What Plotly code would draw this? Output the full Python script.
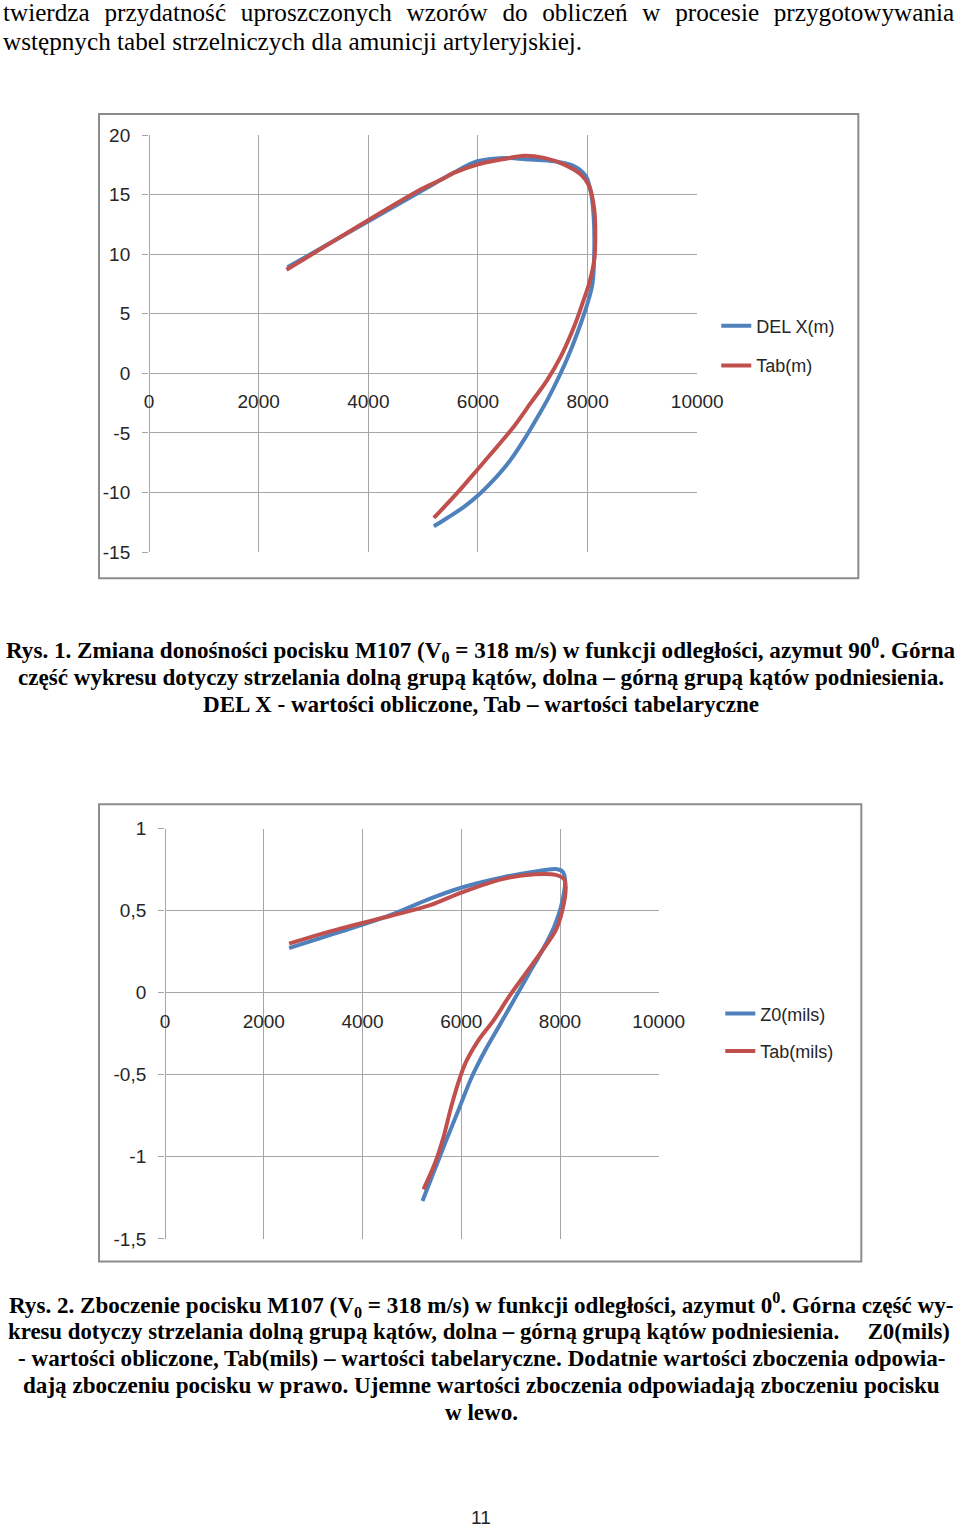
import plotly.graph_objects as go

# Layout is described in target-picture pixels (960x1529) and mapped to
# figure pixels with the measured page-to-picture transform of the viewer.
SX, BX = 0.968, 5.0
SY, BY = 0.986, 10.0
W, H = 980, 1533

# ---------------- data: chart 1 (range change, m) ----------------
x1_del = [2525, 4945, 5561, 5988, 6476, 6963, 7390, 7756, 7970, 8061, 8110, 8122, 8091, 8000, 7878, 7695, 7482, 7268, 7024, 6841, 6598, 6354, 6049, 5744, 5439, 5195]
y1_del = [8.9, 15.24, 16.85, 17.8, 18.08, 17.94, 17.8, 17.38, 16.54, 15.14, 13.18, 10.38, 7.59, 5.91, 4.23, 1.99, -0.24, -2.2, -4.16, -5.56, -7.24, -8.6, -10.03, -11.2, -12.13, -12.83]
x1_tab = [2507, 4945, 5305, 5561, 5988, 6476, 6841, 7207, 7573, 7878, 8030, 8122, 8140, 8122, 8030, 7909, 7756, 7512, 7268, 6963, 6659, 6354, 5988, 5622, 5195]
y1_tab = [8.69, 15.4, 16.2, 16.82, 17.52, 17.99, 18.27, 18.08, 17.52, 16.68, 15.7, 13.74, 11.5, 9.55, 7.59, 5.91, 3.95, 1.43, -0.52, -2.48, -4.44, -6.12, -8.08, -10.03, -12.13]
names1 = ["DEL X(m)", "Tab(m)"]
xt1 = [0, 2000, 4000, 6000, 8000, 10000]
xt1_text = ["0", "2000", "4000", "6000", "8000", "10000"]
yt1 = [-15, -10, -5, 0, 5, 10, 15, 20]
yt1_text = ["-15", "-10", "-5", "0", "5", "10", "15", "20"]

# ---------------- data: chart 2 (drift, mils) ----------------
x2_z0 = [2513, 3546, 4559, 5370, 6014, 6827, 7505, 7912, 8047, 8102, 8034, 7878, 7641, 7369, 7064, 6759, 6488, 6217, 5946, 5675, 5437, 5214]
y2_z0 = [0.272, 0.37, 0.472, 0.573, 0.641, 0.702, 0.739, 0.753, 0.739, 0.692, 0.54, 0.399, 0.257, 0.116, -0.046, -0.207, -0.349, -0.511, -0.713, -0.915, -1.097, -1.269]
x2_tab = [2513, 3546, 4559, 5370, 6014, 6827, 7505, 7912, 8081, 8115, 8047, 7912, 7641, 7302, 6963, 6658, 6353, 6115, 5980, 5800, 5640, 5471, 5234]
y2_tab = [0.299, 0.39, 0.467, 0.533, 0.611, 0.692, 0.722, 0.718, 0.692, 0.642, 0.5, 0.379, 0.257, 0.116, -0.026, -0.167, -0.288, -0.41, -0.511, -0.69, -0.88, -1.036, -1.198]
names2 = ["Z0(mils)", "Tab(mils)"]
xt2 = [0, 2000, 4000, 6000, 8000, 10000]
xt2_text = ["0", "2000", "4000", "6000", "8000", "10000"]
yt2 = [-1.5, -1, -0.5, 0, 0.5, 1]
yt2_text = ["-1,5", "-1", "-0,5", "0", "0,5", "1"]

# ---------------- text ----------------
top_lines = [
    "twierdza przydatność uproszczonych wzorów do obliczeń w procesie przygotowywania",
    "wstępnych tabel strzelniczych dla amunicji artyleryjskiej.",
]
cap1_lines = [
    "Rys. 1. Zmiana donośności pocisku M107 (V<sub>0</sub> = 318 m/s) w funkcji odległości, azymut 90<sup>0</sup>. Górna",
    "część wykresu dotyczy strzelania dolną grupą kątów, dolna – górną grupą kątów podniesienia.",
    "DEL X - wartości obliczone, Tab – wartości tabelaryczne",
]
cap2_lines = [
    "Rys. 2. Zboczenie pocisku M107 (V<sub>0</sub> = 318 m/s) w funkcji odległości, azymut 0<sup>0</sup>. Górna część wy-",
    "kresu dotyczy strzelania dolną grupą kątów, dolna – górną grupą kątów podniesienia." + "\u00a0" * 5 + "Z0(mils)",
    "- wartości obliczone, Tab(mils) – wartości tabelaryczne. Dodatnie wartości zboczenia odpowia-",
    "dają zboczeniu pocisku w prawo. Ujemne wartości zboczenia odpowiadają zboczeniu pocisku",
    "w lewo.",
]
page_no = "11"

BLUE = "#4F81BD"
RED = "#C0504D"
GRID = "#A6A6A6"
SANS = "Liberation Sans, Arial, sans-serif"
SERIF = "Liberation Serif, Times New Roman, serif"

def px(x):
    return ((x - BX) / SX) / W

def py(y):
    return 1 - ((y - BY) / SY) / H

fig = go.Figure()

LW = 4
SM = 0.9
fig.add_trace(go.Scatter(x=x1_del, y=y1_del, name=names1[0], mode="lines",
                         line=dict(color=BLUE, width=LW, shape="spline", smoothing=SM),
                         xaxis="x", yaxis="y", legend="legend", legendgroup="a"))
fig.add_trace(go.Scatter(x=x1_tab, y=y1_tab, name=names1[1], mode="lines",
                         line=dict(color=RED, width=LW, shape="spline", smoothing=SM),
                         xaxis="x", yaxis="y", legend="legend", legendgroup="b"))
fig.add_trace(go.Scatter(x=x2_z0, y=y2_z0, name=names2[0], mode="lines",
                         line=dict(color=BLUE, width=LW, shape="spline", smoothing=SM),
                         xaxis="x2", yaxis="y2", legend="legend2", legendgroup="c"))
fig.add_trace(go.Scatter(x=x2_tab, y=y2_tab, name=names2[1], mode="lines",
                         line=dict(color=RED, width=LW, shape="spline", smoothing=SM),
                         xaxis="x2", yaxis="y2", legend="legend2", legendgroup="d"))

# plot areas (target pixels)
c1 = dict(x0=149, x1=697, ytop=135, ybot=552, yr=[-15, 20])
c2 = dict(x0=165, x1=658.5, ytop=828.3, ybot=1238.5, yr=[-1.5, 1])

def zero_pos(c):
    d0, d1 = py(c["ybot"]), py(c["ytop"])
    r0, r1 = c["yr"]
    return d0 + (0 - r0) / (r1 - r0) * (d1 - d0)

tickfont = dict(family=SANS, size=19, color="#262626")
common_x = dict(range=[0, 10000], showgrid=True, gridcolor=GRID, gridwidth=1,
                zeroline=True, zerolinecolor=GRID, zerolinewidth=1,
                showline=False, ticks="", tickfont=tickfont, tickmode="array",
                anchor="free", ticklabelstandoff=15, fixedrange=True)
common_y = dict(showgrid=True, gridcolor=GRID, gridwidth=1,
                zeroline=True, zerolinecolor=GRID, zerolinewidth=1,
                showline=False, ticks="outside", ticklen=6, tickcolor=GRID,
                tickfont=tickfont, tickmode="array", ticklabelstandoff=8, fixedrange=True)

legfont = dict(family=SANS, size=18, color="#262626")
fig.update_layout(
    width=W, height=H, autosize=False,
    margin=dict(l=0, r=0, t=0, b=0),
    paper_bgcolor="white", plot_bgcolor="white",
    xaxis=dict(common_x, domain=[px(c1["x0"]), px(c1["x1"])], position=zero_pos(c1),
               tickvals=xt1, ticktext=xt1_text),
    yaxis=dict(common_y, domain=[py(c1["ybot"]), py(c1["ytop"])], range=c1["yr"],
               tickvals=yt1, ticktext=yt1_text, anchor="x"),
    xaxis2=dict(common_x, domain=[px(c2["x0"]), px(c2["x1"])], position=zero_pos(c2),
                tickvals=xt2, ticktext=xt2_text),
    yaxis2=dict(common_y, domain=[py(c2["ybot"]), py(c2["ytop"])], range=c2["yr"],
                tickvals=yt2, ticktext=yt2_text, anchor="x2"),
    legend=dict(x=px(716), y=py(307.5), xanchor="left", yanchor="top", font=legfont,
                tracegroupgap=13.2, traceorder="grouped", bgcolor="rgba(0,0,0,0)",
                itemclick=False, itemdoubleclick=False),
    legend2=dict(x=px(720), y=py(995), xanchor="left", yanchor="top", font=legfont,
                 tracegroupgap=11.2, traceorder="grouped", bgcolor="rgba(0,0,0,0)",
                 itemclick=False, itemdoubleclick=False),
    showlegend=True,
)

# chart frames
for (x0, y0, x1, y1) in [(99, 114, 858, 578), (99, 804, 861, 1261)]:
    fig.add_shape(type="rect", xref="paper", yref="paper",
                  x0=px(x0), x1=px(x1), y0=py(y1), y1=py(y0),
                  line=dict(color="#8C8C8C", width=2), layer="below")

ann = []
serif_reg = dict(family=SERIF, size=25.2, color="black")
serif_bold = dict(family=SERIF, size=23.1, color="black")
line1 = top_lines[0].replace(" ", " \u00a0\u200a")
ann.append(dict(text=line1, x=px(478), y=py(12), xanchor="center", yanchor="middle", font=serif_reg))
ann.append(dict(text=top_lines[1], x=px(1.5), y=py(41), xanchor="left", yanchor="middle", font=serif_reg))
for t, yy in zip(cap1_lines, [650, 677, 704]):
    ann.append(dict(text="<b>" + t + "</b>", x=px(481), y=py(yy), xanchor="center", yanchor="middle", font=serif_bold))
for i, (t, yy) in enumerate(zip(cap2_lines, [1305, 1331, 1358, 1385, 1412])):
    f = dict(serif_bold, size=22.8) if i == 1 else serif_bold
    ann.append(dict(text="<b>" + t + "</b>", x=px(479 if i == 1 else 481), y=py(yy),
                    xanchor="center", yanchor="middle", font=f))
ann.append(dict(text=page_no, x=px(481), y=py(1517), xanchor="center", yanchor="middle",
                font=dict(family=SANS, size=19, color="#262626")))
for a in ann:
    a.update(xref="paper", yref="paper", showarrow=False)
fig.update_layout(annotations=ann)

fig.write_html("out.html", config={"displayModeBar": False})
